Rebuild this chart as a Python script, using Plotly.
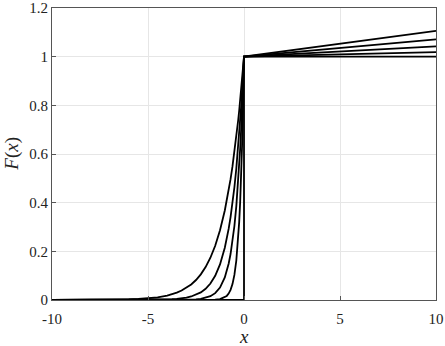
import plotly.graph_objects as go

# sample points (left branch, x <= 0)
x_left = [-10, -8, -7, -6, -5.5, -5, -4.5, -4, -3.75, -3.5, -3.25, -3, -2.75, -2.5,
          -2.25, -2, -1.75, -1.5, -1.25, -1, -0.9, -0.8, -0.7, -0.6, -0.5, -0.4,
          -0.3, -0.25, -0.2, -0.15, -0.1, -0.05, 0]

f_wide = [0.00005, 0.0003, 0.0009, 0.0025, 0.0041, 0.0067, 0.0111, 0.0183, 0.0235, 0.0302,
          0.0388, 0.0498, 0.0639, 0.0821, 0.1054, 0.1353, 0.1738, 0.2231, 0.2865, 0.3679,
          0.4066, 0.4493, 0.4966, 0.5488, 0.6065, 0.6703, 0.7408, 0.7788, 0.8187, 0.8607,
          0.9048, 0.9512, 1.0]
f_mid1 = [0.0, 0.0, 0.00002, 0.0001, 0.0002, 0.0005, 0.0010, 0.0021, 0.0031, 0.0046,
          0.0067, 0.0099, 0.0145, 0.0214, 0.0314, 0.0461, 0.0677, 0.0995, 0.1462, 0.2147,
          0.2504, 0.2921, 0.3406, 0.3973, 0.4634, 0.5404, 0.6303, 0.6807, 0.7351, 0.7939,
          0.8574, 0.9260, 1.0]
f_mid2 = [0.0, 0.0, 0.0, 0.0, 0.0, 0.0, 0.0, 0.0001, 0.0001, 0.0002,
          0.0004, 0.0008, 0.0014, 0.0026, 0.0047, 0.0086, 0.0155, 0.0281, 0.0510, 0.0925,
          0.1173, 0.1489, 0.1889, 0.2397, 0.3041, 0.3859, 0.4895, 0.5514, 0.6211, 0.6998,
          0.7881, 0.8880, 1.0]
f_narrow = [0.0, 0.0, 0.0, 0.0, 0.0, 0.0, 0.0, 0.0, 0.0, 0.0,
            0.0, 0.0, 0.0, 0.0, 0.0, 0.0001, 0.0004, 0.0011, 0.0034, 0.0106,
            0.0167, 0.0263, 0.0415, 0.0654, 0.1030, 0.1623, 0.2557, 0.3210, 0.4029, 0.5057,
            0.6348, 0.7967, 1.0]

# value at x = 10 on the right branch (straight lines from (0, 1))
x_right_end = 10
f_right_end = [1.106, 1.071, 1.042, 1.019, 1.0]

x_ticks = [-10, -5, 0, 5, 10]
x_tick_text = ["-10", "-5", "0", "5", "10"]
y_ticks = [0, 0.2, 0.4, 0.6, 0.8, 1.0, 1.2]
y_tick_text = ["0", "0.2", "0.4", "0.6", "0.8", "1", "1.2"]

curves = [f_wide, f_mid1, f_mid2, f_narrow]

fig = go.Figure()
for ys, end in zip(curves, f_right_end[:4]):
    fig.add_trace(go.Scatter(
        x=x_left + [x_right_end], y=ys + [end], mode="lines",
        line={"color": "black", "width": 1.8}, showlegend=False,
    ))
# step curve
fig.add_trace(go.Scatter(
    x=[-10, 0, 0, x_right_end], y=[0, 0, 1, f_right_end[4]], mode="lines",
    line={"color": "black", "width": 1.8}, showlegend=False,
))

serif = "Liberation Serif, DejaVu Serif, serif"
axis_common = dict(
    showgrid=True, gridcolor="#e6e6e6", gridwidth=1,
    showline=True, linecolor="#555555", linewidth=1, mirror=True,
    ticks="inside", ticklen=4, tickcolor="#555555",
    tickfont={"family": serif, "size": 15, "color": "#222222"},
    zeroline=False, automargin=False,
)
fig.update_xaxes(range=[-10, 10], tickvals=x_ticks, ticktext=x_tick_text,
                 ticklabelstandoff=5, **axis_common)
fig.update_yaxes(range=[0, 1.2], tickvals=y_ticks, ticktext=y_tick_text, **axis_common)

fig.add_annotation(text="<i>x</i>", xref="paper", yref="paper", x=0.5, y=-0.124,
                   xanchor="center", yanchor="middle",
                   showarrow=False, font={"family": serif, "size": 19, "color": "#222222"})
fig.add_annotation(text="<i>F</i>(<i>x</i>)", xref="paper", yref="paper", x=-0.105, y=0.5,
                   xanchor="center", yanchor="middle", textangle=-90, showarrow=False,
                   font={"family": serif, "size": 19, "color": "#222222"})

fig.update_layout(
    width=445, height=346,
    margin={"l": 52, "r": 9, "t": 8, "b": 46, "autoexpand": False},
    plot_bgcolor="white", paper_bgcolor="white",
    showlegend=False,
)
fig.write_html(
    "out.html",
    config={"displayModeBar": False},
    post_script="document.body.style.margin='0';document.body.style.overflow='hidden';",
)
